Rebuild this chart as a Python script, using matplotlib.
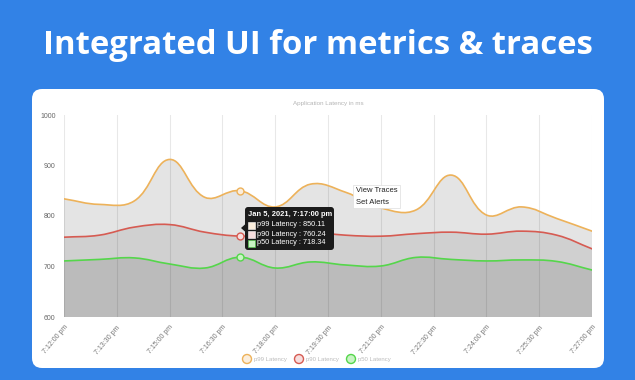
import numpy as np
import matplotlib
matplotlib.use("Agg")
import matplotlib.pyplot as plt
from matplotlib.path import Path
from matplotlib.patches import PathPatch, FancyBboxPatch, Circle, Polygon, Rectangle

# ---------------- data ----------------
minutes = list(range(16))  # 7:12 pm ... 7:27 pm, one point per minute
p99 = [834, 823, 830, 912, 837, 850.11, 818, 863, 847, 816, 812, 881, 802, 818, 795, 770]
p90 = [758, 762, 778, 783, 768, 760.24, 764, 768, 762, 760, 765, 768, 764, 770, 762, 735]
p50 = [711, 714, 717, 705, 697, 718.34, 697, 709, 703, 701, 718, 714, 711, 713, 710, 693]
series_names = ["p99 Latency", "p90 Latency", "p50 Latency"]
tick_pos = [0, 1.5, 3, 4.5, 6, 7.5, 9, 10.5, 12, 13.5, 15]
tick_labels = ["7:12:00 pm", "7:13:30 pm", "7:15:00 pm", "7:16:30 pm", "7:18:00 pm",
               "7:19:30 pm", "7:21:00 pm", "7:22:30 pm", "7:24:00 pm", "7:25:30 pm",
               "7:27:00 pm"]
y_ticks = [600, 700, 800, 900, 1000]
hover_index = 5
hover_title = "Jan 5, 2021, 7:17:00 pm"
menu_items = ["View Traces", "Set Alerts"]
main_title = "Integrated UI for metrics & traces"
chart_title = "Application Latency in ms"

# ---------------- style ----------------
BLUE = "#3282e6"
line_colors = ["#edb25a", "#d65b52", "#55d64b"]
fill_colors = ["#e4e4e4", "#d0d0d0", "#bbbbbb"]
marker_fill = ["#fbeedd", "#f7dede", "#c9f3c4"]
W, H = 635, 380
fig = plt.figure(figsize=(W / 100, H / 100), dpi=100)
fig.patch.set_facecolor(BLUE)

def inch(px_x, px_y_top):
    return px_x / 100.0, (H - px_y_top) / 100.0

# card
cx0, cy0 = inch(32, 368)
cx1, cy1 = inch(604, 89)
card = FancyBboxPatch((cx0, cy0), cx1 - cx0, cy1 - cy0,
                      boxstyle="round,pad=0,rounding_size=0.1",
                      transform=fig.dpi_scale_trans, facecolor="white",
                      edgecolor="none", zorder=-5)
fig.patches.append(card)

# main title
ttl = fig.text(0.5, 1 - 46 / H, main_title, ha="center", va="center",
               color="white", fontsize=24, fontweight="bold", family="Open Sans")
fig.canvas.draw()
bb = ttl.get_window_extent()
ttl.set_fontsize(24 * 550 / bb.width)

# axes
left, right, top, bottom = 64, 592, 115, 317
ax = fig.add_axes([left / W, 1 - bottom / H, (right - left) / W, (bottom - top) / H])
ax.set_facecolor("none")
ax.set_zorder(1)
ax.set_xlim(minutes[0], minutes[-1])
ax.set_ylim(600, 1000)
for s in ax.spines.values():
    s.set_visible(False)

sx = (right - left) / (minutes[-1] - minutes[0])
sy = (bottom - top) / 400.0


def bezier(xs, ys, t=0.4):
    px = np.asarray(xs, float) * sx
    py = np.asarray(ys, float) * sy
    n = len(px)
    prev_cp, next_cp = [], []
    for i in range(n):
        a = i - 1 if i > 0 else i
        b = i + 1 if i < n - 1 else i
        d01 = np.hypot(px[i] - px[a], py[i] - py[a])
        d12 = np.hypot(px[b] - px[i], py[b] - py[i])
        tot = d01 + d12
        s01 = d01 / tot if tot else 0
        s12 = d12 / tot if tot else 0
        fa, fb = t * s01, t * s12
        prev_cp.append((px[i] - fa * (px[b] - px[a]), py[i] - fa * (py[b] - py[a])))
        next_cp.append((px[i] + fb * (px[b] - px[a]), py[i] + fb * (py[b] - py[a])))
    verts = [(px[0], py[0])]
    codes = [Path.MOVETO]
    for i in range(n - 1):
        verts += [next_cp[i], prev_cp[i + 1], (px[i + 1], py[i + 1])]
        codes += [Path.CURVE4] * 3
    verts = [(vx / sx, vy / sy) for vx, vy in verts]
    return verts, codes


all_series = [p99, p90, p50]
for k, ser in enumerate(all_series):
    verts, codes = bezier(minutes, ser)
    fverts = verts + [(minutes[-1], 600), (minutes[0], 600), verts[0]]
    fcodes = codes + [Path.LINETO, Path.LINETO, Path.CLOSEPOLY]
    ax.add_patch(PathPatch(Path(fverts, fcodes), facecolor=fill_colors[k],
                           edgecolor="none", zorder=1 + k))
    ax.add_patch(PathPatch(Path(verts, codes), facecolor="none",
                           edgecolor=line_colors[k], lw=1.2, zorder=6,
                           capstyle="round", joinstyle="round"))
    ax.plot([minutes[hover_index]], [ser[hover_index]], "o", ms=5,
            mfc=marker_fill[k], mec=line_colors[k], mew=1.0, zorder=7)

# vertical grid
for xp in tick_pos:
    ax.axvline(xp, color="black", alpha=0.09, lw=0.8, zorder=5)

ax.set_xticks(tick_pos)
ax.set_xticklabels(tick_labels, rotation=50, ha="right", va="top",
                   rotation_mode="anchor", fontsize=5.0, color="#777777",
                   family="Liberation Sans")
ax.set_yticks(y_ticks)
ax.set_yticklabels([str(v) for v in y_ticks], fontsize=5, color="#666666",
                   family="Liberation Sans")
ax.tick_params(axis="both", length=0)
ax.tick_params(axis="y", pad=6)
ax.tick_params(axis="x", pad=5)

fig.text(0.5 * (left + right) / W, 1 - 103 / H, chart_title, ha="center",
         va="center", fontsize=4.5, color="#b5b5b5", family="Liberation Sans")

# tooltip
tx0, ty0 = inch(245, 250)
tx1, ty1 = inch(334, 207)
tip = FancyBboxPatch((tx0, ty0), tx1 - tx0, ty1 - ty0,
                     boxstyle="round,pad=0,rounding_size=0.03",
                     transform=fig.dpi_scale_trans, facecolor="#1b1b1b",
                     edgecolor="none", zorder=10)
fig.patches.append(tip)
caret = Polygon([inch(241, 228), inch(245.5, 224), inch(245.5, 232)], closed=True,
                transform=fig.dpi_scale_trans, facecolor="#1b1b1b",
                edgecolor="none", zorder=10)
fig.patches.append(caret)
fig.text(248 / W, 1 - 214 / H, hover_title, ha="left", va="center",
         fontsize=5.4, fontweight="bold", color="white", family="Liberation Sans",
         zorder=11)
row_y = [225, 234, 243]
for k, ser in enumerate(all_series):
    rx, ry = inch(248, row_y[k] + 3.5)
    sw = Rectangle((rx, ry), 0.07, 0.07, transform=fig.dpi_scale_trans,
                   facecolor=marker_fill[k], edgecolor="white" if k < 2 else line_colors[k],
                   lw=0.4, zorder=11)
    fig.patches.append(sw)
    fig.text(257 / W, 1 - row_y[k] / H, f"{series_names[k]} : {ser[hover_index]:.2f}",
             ha="left", va="center", fontsize=5.3, color="white",
             family="Liberation Sans", zorder=11)

# context menu
mx0, my0 = inch(353, 208)
mx1, my1 = inch(400, 185)
menu = Rectangle((mx0, my0), mx1 - mx0, my1 - my0, transform=fig.dpi_scale_trans,
                 facecolor="white", edgecolor="#dddddd", lw=0.5, zorder=10)
fig.patches.append(menu)
for i, item in enumerate(menu_items):
    fig.text(356 / W, 1 - (191 + 11 * i) / H, item, ha="left", va="center",
             fontsize=5.5, color="#222222", family="Liberation Sans", zorder=11)

# legend
leg_x = [247, 299, 351]
for k in range(3):
    lx, ly = inch(leg_x[k], 359)
    c = Circle((lx, ly), 0.045, transform=fig.dpi_scale_trans,
               facecolor=marker_fill[k], edgecolor=line_colors[k], lw=1.0, zorder=5)
    fig.patches.append(c)
    fig.text((leg_x[k] + 7) / W, 1 - 359 / H, series_names[k], ha="left",
             va="center", fontsize=4.3, color="#bbbbbb", family="Liberation Sans")

fig.savefig("out.png", dpi=100, facecolor=BLUE)
